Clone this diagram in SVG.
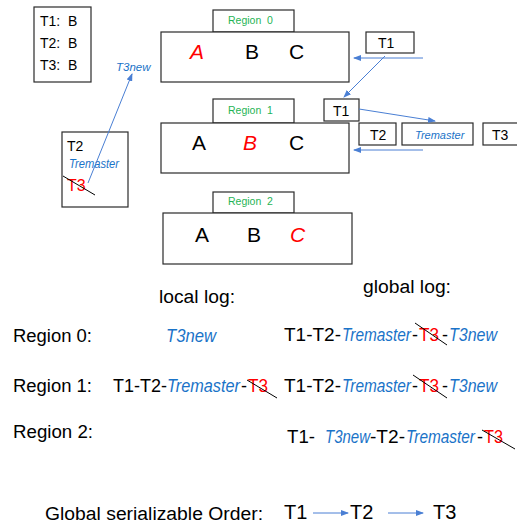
<svg xmlns="http://www.w3.org/2000/svg" width="517" height="524" viewBox="0 0 517 524">
  <style>
    text { font-family: "Liberation Sans", Arial, sans-serif; fill: #000; white-space: pre; }
    .box { fill: #fff; stroke: #2a2a2a; stroke-width: 1.2; }
    .tab { font-size: 10.5px; fill: #1fb455; }
    .big { font-size: 21px; }
    .red { fill: #ff0000; }
    .it { font-style: italic; }
    .blue { fill: #1a73c8; font-style: italic; }
    .lbl { font-size: 14px; }
    .log { font-size: 18px; }
    .head { font-size: 18px; }
    .conn { stroke: #4a7fd4; stroke-width: 1; fill: none; }
    .strike { stroke: #000; stroke-width: 1; }
  </style>
  <defs>
    <marker id="arrow" markerWidth="8" markerHeight="6" refX="7" refY="3" orient="auto" markerUnits="userSpaceOnUse">
      <path d="M0,0 L8,3 L0,6 Z" fill="#4a7fd4"/>
    </marker>
  </defs>

  <!-- lock table -->
  <g id="lock-table">
    <rect class="box" x="34" y="7" width="57" height="75"/>
    <text class="lbl" x="40" y="26">T1:  B</text>
    <text class="lbl" x="40" y="48">T2:  B</text>
    <text class="lbl" x="40" y="70">T3:  B</text>
  </g>

  <!-- local log of region 1 -->
  <g id="local-queue">
    <rect class="box" x="62" y="132" width="66" height="75"/>
    <text class="lbl" x="67" y="151">T2</text>
    <text class="blue" x="69" y="168" font-size="12" textLength="50" lengthAdjust="spacingAndGlyphs">Tremaster</text>
    <text class="red" x="67" y="191" font-size="16">T3</text>
    <line class="strike" x1="63" y1="176" x2="95" y2="195"/>
  </g>

  <g id="t3new-label">
    <text class="blue" x="116" y="71" font-size="11.5">T3new</text>
  </g>

  <!-- Region 0 -->
  <g id="region0">
    <rect class="box" x="213" y="10" width="81" height="22"/>
    <text class="tab" x="228" y="24">Region  0</text>
    <rect class="box" x="161" y="32" width="188" height="50"/>
    <text class="big red it" x="190" y="59">A</text>
    <text class="big" x="245" y="59">B</text>
    <text class="big" x="289" y="59">C</text>
  </g>

  <!-- Region 1 -->
  <g id="region1">
    <rect class="box" x="213" y="99" width="81" height="24"/>
    <text class="tab" x="228" y="114">Region  1</text>
    <rect class="box" x="161" y="123" width="188" height="50"/>
    <text class="big" x="192" y="150">A</text>
    <text class="big red it" x="243" y="150">B</text>
    <text class="big" x="289" y="150">C</text>
  </g>

  <!-- Region 2 -->
  <g id="region2">
    <rect class="box" x="213" y="192" width="81" height="21"/>
    <text class="tab" x="228" y="205">Region  2</text>
    <rect class="box" x="163" y="213" width="189" height="51"/>
    <text class="big" x="195" y="242">A</text>
    <text class="big" x="247" y="242">B</text>
    <text class="big red it" x="290" y="242">C</text>
  </g>

  <!-- transaction boxes -->
  <g id="tx-t1-top">
    <rect class="box" x="366" y="32" width="48" height="21"/>
    <text class="lbl" x="378" y="48">T1</text>
  </g>
  <g id="tx-t1-mid">
    <rect class="box" x="324" y="99" width="35" height="22"/>
    <text class="lbl" x="333" y="116">T1</text>
  </g>
  <g id="tx-t2">
    <rect class="box" x="359" y="123" width="37" height="22"/>
    <text class="lbl" x="370" y="140">T2</text>
  </g>
  <g id="tx-tremaster">
    <rect class="box" x="402" y="123" width="71" height="22"/>
    <text class="blue" x="415" y="139" font-size="11">Tremaster</text>
  </g>
  <g id="tx-t3">
    <rect class="box" x="483" y="123" width="40" height="22"/>
    <text class="lbl" x="492" y="140">T3</text>
  </g>

  <!-- connectors -->
  <g id="connectors">
    <line class="conn" x1="88" y1="183" x2="132" y2="74" marker-end="url(#arrow)"/>
    <line class="conn" x1="423" y1="58" x2="354" y2="58" marker-end="url(#arrow)"/>
    <line class="conn" x1="385" y1="56" x2="344" y2="97" marker-end="url(#arrow)"/>
    <line class="conn" x1="359" y1="109" x2="435" y2="121" marker-end="url(#arrow)"/>
    <line class="conn" x1="423" y1="150" x2="354" y2="150" marker-end="url(#arrow)"/>
    <line class="conn" x1="313" y1="513" x2="348" y2="513" marker-end="url(#arrow)"/>
    <line class="conn" x1="388" y1="513" x2="423" y2="513" marker-end="url(#arrow)"/>
  </g>

  <!-- log table -->
  <g id="logs">
    <text class="head" x="159" y="303" textLength="76" lengthAdjust="spacingAndGlyphs">local log:</text>
    <text class="head" x="363" y="293" textLength="88" lengthAdjust="spacingAndGlyphs">global log:</text>

    <!-- Region 0 row -->
    <text class="head" x="13" y="342" textLength="79" lengthAdjust="spacingAndGlyphs">Region 0:</text>
    <text class="log blue" x="166" y="342" textLength="50" lengthAdjust="spacingAndGlyphs">T3new</text>
    <text class="log" x="284" y="341" textLength="57" lengthAdjust="spacingAndGlyphs">T1-T2-</text>
    <text class="log blue" x="342" y="341" textLength="69" lengthAdjust="spacingAndGlyphs">Tremaster</text>
    <text class="log" x="412" y="341">-</text>
    <text class="log red" x="419" y="341" textLength="20" lengthAdjust="spacingAndGlyphs">T3</text>
    <text class="log" x="442" y="341">-</text>
    <text class="log blue" x="449" y="341" textLength="48" lengthAdjust="spacingAndGlyphs">T3new</text>
    <line class="strike" x1="415" y1="323" x2="447" y2="345"/>

    <!-- Region 1 row -->
    <text class="head" x="13" y="392" textLength="79" lengthAdjust="spacingAndGlyphs">Region 1:</text>
    <text class="log" x="113" y="392" textLength="54" lengthAdjust="spacingAndGlyphs">T1-T2-</text>
    <text class="log blue" x="167" y="392" textLength="73" lengthAdjust="spacingAndGlyphs">Tremaster</text>
    <text class="log" x="241" y="392">-</text>
    <text class="log red" x="248" y="392" textLength="20" lengthAdjust="spacingAndGlyphs">T3</text>
    <line class="strike" x1="247" y1="380" x2="277" y2="398"/>

    <text class="log" x="284" y="392" textLength="57" lengthAdjust="spacingAndGlyphs">T1-T2-</text>
    <text class="log blue" x="342" y="392" textLength="69" lengthAdjust="spacingAndGlyphs">Tremaster</text>
    <text class="log" x="412" y="392">-</text>
    <text class="log red" x="419" y="392" textLength="20" lengthAdjust="spacingAndGlyphs">T3</text>
    <text class="log" x="442" y="392">-</text>
    <text class="log blue" x="449" y="392" textLength="48" lengthAdjust="spacingAndGlyphs">T3new</text>
    <line class="strike" x1="413" y1="375" x2="447" y2="398"/>

    <!-- Region 2 row -->
    <text class="head" x="13" y="438" textLength="80" lengthAdjust="spacingAndGlyphs">Region 2:</text>
    <text class="log" x="287" y="443" textLength="28" lengthAdjust="spacingAndGlyphs">T1-</text>
    <text class="log blue" x="325" y="443" textLength="45" lengthAdjust="spacingAndGlyphs">T3new</text>
    <text class="log" x="370" y="443" textLength="35" lengthAdjust="spacingAndGlyphs">-T2-</text>
    <text class="log blue" x="406" y="443" textLength="69" lengthAdjust="spacingAndGlyphs">Tremaster</text>
    <text class="log" x="477" y="443">-</text>
    <text class="log red" x="484" y="443" textLength="19" lengthAdjust="spacingAndGlyphs">T3</text>
    <line class="strike" x1="482" y1="430" x2="515" y2="449"/>
  </g>

  <!-- serial order -->
  <g id="order">
    <text class="head" x="45" y="520" textLength="218" lengthAdjust="spacingAndGlyphs">Global serializable Order:</text>
    <text x="284" y="519" font-size="20">T1</text>
    <text x="350" y="519" font-size="20">T2</text>
    <text x="433" y="519" font-size="20">T3</text>
  </g>
</svg>
